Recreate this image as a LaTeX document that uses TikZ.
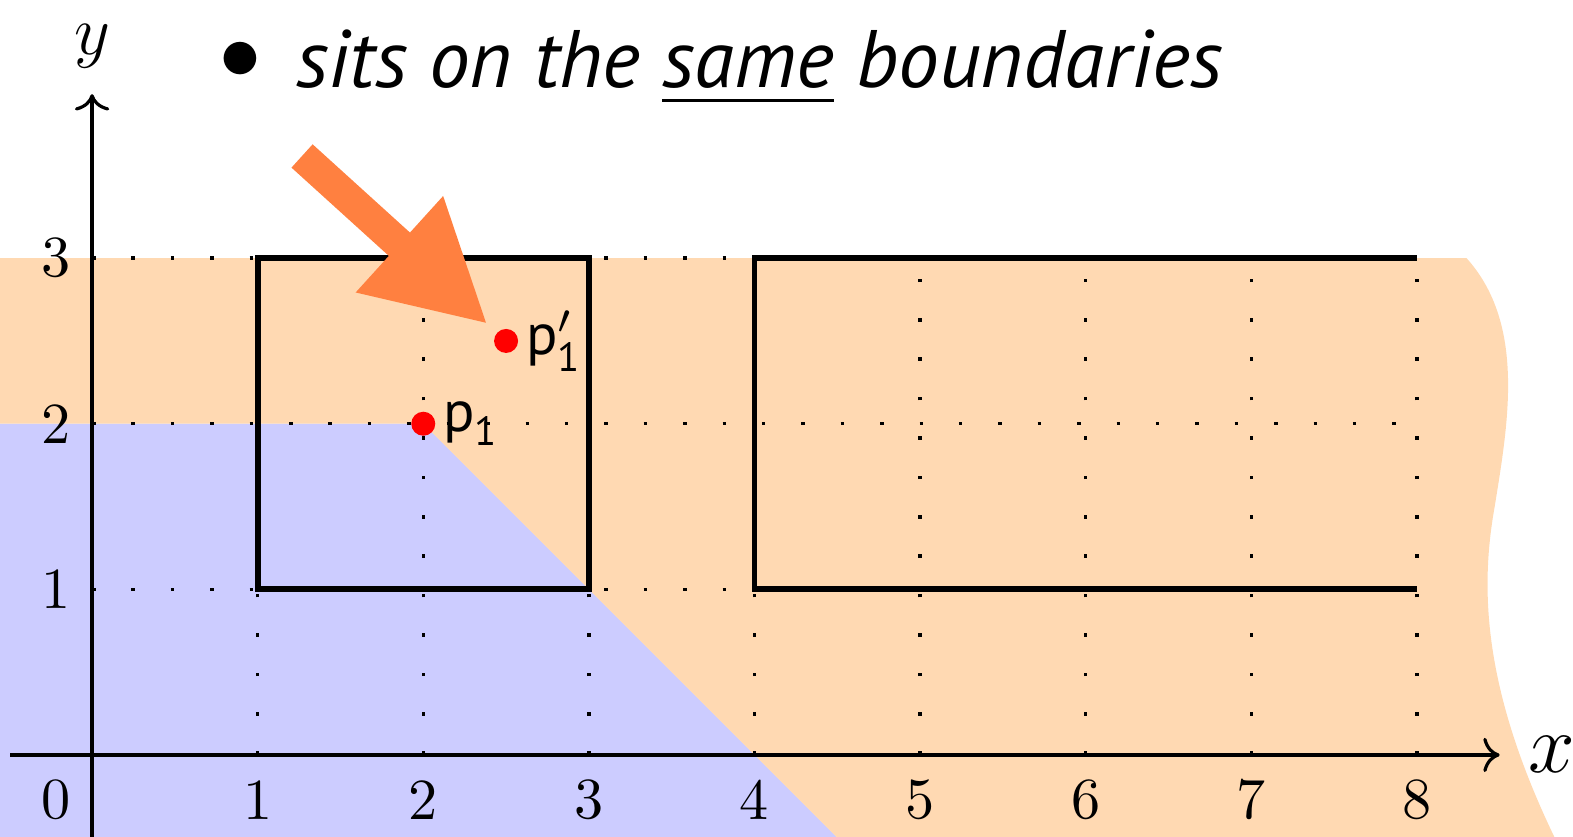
\documentclass[tikz,border=0pt]{standalone}
\usepackage{amsmath}
\usepackage{fontspec}
\setsansfont{PT Sans}
\usepackage{xcolor}
\usetikzlibrary{arrows.meta, positioning}
\definecolor{arrowcol}{RGB}{255,128,64}

\begin{document}
\begin{tikzpicture}[
    axis/.style={->, line width=0.55pt},
    griddots/.style={line width=0.6pt, dash pattern=on 0.6pt off 6.17pt},
    cell/.style={line width=1pt},
    dot/.style={circle, fill=red, inner sep=0pt, minimum size=0.145cm},
    tick/.style={font=\normalsize, inner sep=0pt},
    plabel/.style={font=\sffamily, inner sep=1pt},
    bigarrow/.style={-{Triangle[length=0.72cm, width=0.73cm]}, line width=0.19cm, draw=arrowcol, shorten >=0.07cm}
]
\useasboundingbox (-0.556,-0.495) rectangle (8.943,4.559);

\fill[blue!20] (-0.556,2) -- (2,2) -- (4.495,-0.495) -- (-0.556,-0.495) -- cycle;
\fill[orange!30] (-0.556,3) -- (8.30,3) .. controls (8.66,2.6) and (8.55,2.0) .. (8.47,1.5) .. controls (8.38,1.0) and (8.40,0.4) .. (8.83,-0.495) -- (4.495,-0.495) -- (2,2) -- (-0.556,2) -- cycle;

\draw[griddots] (0,0) grid (8,3);

\draw[cell] (1,1) rectangle (3,3);
\draw[cell] (8,3) -- (4,3) -- (4,1) -- (8,1);

\draw[axis] (-0.495,0) -- (8.5,0) coordinate (xend);
\draw[axis] (0,-0.495) -- (0,3.99) coordinate (yend);
\node[right=0.05cm of xend, font=\Large] (xlab) {$x$};
\node[above=1pt of yend, font=\large] (ylab) {$y$};

\node[tick] (orig) at (-0.22,-0.27) {0};
\foreach \n in {1,...,8}
    \node[tick] (xt\n) at (\n,-0.27) {\n};
\foreach \n in {1,2,3}
    \node[tick] (yt\n) at (-0.22,\n) {\n};

\node[dot, label={[plabel]right:$\textsf{p}_{\textsf{1}}$}] (pone) at (2,2) {};
\node[dot, label={[plabel]right:$\textsf{p}'_{\textsf{1}}$}] (ponep) at (2.5,2.5) {};

\coordinate (tail) at (1.268,3.617);
\draw[bigarrow] (tail) -- (ponep);

\node[font=\Large] (bul) at (0.894,4.19) {$\bullet$};
\node[anchor=base west, inner sep=0pt, font=\sffamily\itshape\fontsize{14}{17}\selectfont] (title) at (1.226,4.03) {sits on the \underline{same} boundaries};

\end{tikzpicture}
\end{document}
